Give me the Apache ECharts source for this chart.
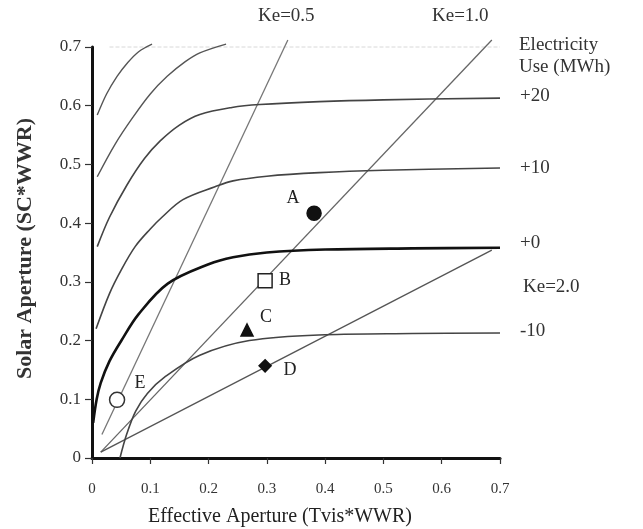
<!DOCTYPE html>
<html><head><meta charset="utf-8">
<script src="https://cdn.jsdelivr.net/npm/echarts@6/dist/echarts.min.js"></script>
<style>html,body{margin:0;padding:0;background:#fff}#c{width:643px;height:529px}</style>
</head><body><div id="c"></div>
<script>
// ---- data ----
const curveTopA = [[0.009,0.584],[0.025,0.620],[0.043,0.650],[0.060,0.672],[0.080,0.692],[0.103,0.705]];
const curveTopB = [[0.009,0.479],[0.040,0.535],[0.070,0.580],[0.100,0.620],[0.129,0.650],[0.160,0.675],[0.185,0.690],[0.230,0.705]];
const curvePlus20 = [[0.009,0.360],[0.030,0.410],[0.060,0.465],[0.090,0.510],[0.117,0.540],[0.150,0.567],[0.185,0.585],[0.240,0.597],[0.288,0.602],[0.390,0.607],[0.500,0.610],[0.700,0.613]];
const curvePlus10 = [[0.007,0.220],[0.030,0.280],[0.050,0.320],[0.074,0.360],[0.100,0.390],[0.120,0.410],[0.156,0.440],[0.211,0.462],[0.242,0.472],[0.300,0.480],[0.390,0.486],[0.500,0.490],[0.700,0.494]];
const curvePlus0 = [[0.002,0.060],[0.008,0.100],[0.015,0.128],[0.030,0.165],[0.051,0.201],[0.080,0.245],[0.130,0.297],[0.200,0.330],[0.242,0.342],[0.300,0.350],[0.400,0.355],[0.550,0.357],[0.700,0.358]];
const curveMinus10 = [[0.048,0.000],[0.060,0.042],[0.075,0.080],[0.095,0.110],[0.125,0.138],[0.185,0.175],[0.270,0.200],[0.400,0.210],[0.550,0.212],[0.700,0.213]];
const lineKe05 = [[0.017,0.040],[0.336,0.712]];
const lineKe10 = [[0.015,0.010],[0.686,0.712]];
const lineKe20 = [[0.015,0.010],[0.686,0.354]];
const topGuide = [[0.03,0.70],[0.70,0.70]];
const pointNames = ['A','B','C','D','E'];
const pointValues = [[0.381,0.417],[0.297,0.302],[0.266,0.218],[0.297,0.157],[0.043,0.099]];
const contourLabels = ['+20','+10','+0','-10'];
const keLabels = ['Ke=0.5','Ke=1.0','Ke=2.0'];

const serif = 'Liberation Serif';
const chart = echarts.init(document.getElementById('c'), null, {renderer:'canvas'});

function curve(data, color, width){
  return {type:'line', data:data, smooth:0.35, showSymbol:false, symbol:'none', clip:false,
          lineStyle:{color:color, width:width}, z:3, silent:true};
}
function straight(data, color, width, type){
  return {type:'line', data:data, showSymbol:false, symbol:'none', clip:false,
          lineStyle:{color:color, width:width, type:type||'solid'}, z:2, silent:true};
}
const pointStyles = [
  {symbol:'circle', size:14, fill:'#111', border:'#111', off:[-21,-15]},
  {symbol:'rect', size:14, fill:'#fff', border:'#222', off:[20,0]},
  {symbol:'triangle', size:12, fill:'#111', border:'#111', off:[19,-13]},
  {symbol:'diamond', size:12, fill:'#111', border:'#111', off:[25,4]},
  {symbol:'circle', size:15, fill:'#fff', border:'#333', off:[23,-17]}
];
const pointSeries = pointValues.map((v,i)=>({
  type:'scatter', data:[v], symbol:pointStyles[i].symbol, symbolSize:pointStyles[i].size, z:5,
  itemStyle:{color:pointStyles[i].fill, borderColor:pointStyles[i].border, borderWidth:1.5, opacity:1},
  label:{show:true, formatter:pointNames[i], position:'inside', offset:pointStyles[i].off,
         fontFamily:serif, fontSize:18, color:'#222'}
}));

const textStyle = {fontFamily:serif, fontSize:19, fill:'#333'};
chart.setOption({
  animation:false,
  backgroundColor:'#fff',
  textStyle:{fontFamily:serif},
  grid:{left:92, right:143, top:47, bottom:71, outerBoundsMode:'none', containLabel:false},
  xAxis:{type:'value', min:0, max:0.7, interval:0.1,
    name:'Effective Aperture (Tvis*WWR)', nameLocation:'middle', nameGap:49,
    nameTextStyle:{fontFamily:serif, fontSize:20, color:'#222', padding:[0,32,0,0]},
    axisLine:{lineStyle:{color:'#111', width:3}},
    axisTick:{show:true, length:6, lineStyle:{color:'#333', width:1.2}},
    axisLabel:{margin:24, fontFamily:serif, fontSize:15, color:'#333'},
    splitLine:{show:false}},
  yAxis:{type:'value', min:0, max:0.7, interval:0.1,
    name:'Solar Aperture (SC*WWR)', nameLocation:'middle', nameGap:56,
    nameTextStyle:{fontFamily:serif, fontSize:22, fontWeight:'bold', color:'#333', padding:[0,0,0,8]},
    axisLine:{lineStyle:{color:'#111', width:3}},
    axisTick:{show:true, length:7, lineStyle:{color:'#333', width:1.2}},
    axisLabel:{margin:11, fontFamily:serif, fontSize:17, color:'#333'},
    splitLine:{show:false}},
  series:[
    straight(topGuide, '#d8d8d8', 1, 'dashed'),
    straight(lineKe05, '#777', 1.3),
    straight(lineKe10, '#666', 1.3),
    straight(lineKe20, '#555', 1.3),
    curve(curveTopA, '#555', 1.4),
    curve(curveTopB, '#555', 1.4),
    curve(curvePlus20, '#444', 1.6),
    curve(curvePlus10, '#444', 1.6),
    curve(curvePlus0, '#111', 2.6),
    curve(curveMinus10, '#444', 1.6)
  ].concat(pointSeries),
  graphic:[
    {type:'text', left:258, top:7, style:Object.assign({text:keLabels[0]}, textStyle)},
    {type:'text', left:432, top:7, style:Object.assign({text:keLabels[1]}, textStyle)},
    {type:'text', left:519, top:36, style:Object.assign({text:'Electricity'}, textStyle)},
    {type:'text', left:519, top:58, style:Object.assign({text:'Use (MWh)'}, textStyle)},
    {type:'text', left:520, top:87, style:Object.assign({text:contourLabels[0]}, textStyle)},
    {type:'text', left:520, top:159, style:Object.assign({text:contourLabels[1]}, textStyle)},
    {type:'text', left:520, top:234, style:Object.assign({text:contourLabels[2]}, textStyle)},
    {type:'text', left:523, top:278, style:Object.assign({text:keLabels[2]}, textStyle)},
    {type:'text', left:520, top:322, style:Object.assign({text:contourLabels[3]}, textStyle)}
  ]
});
</script></body></html>
